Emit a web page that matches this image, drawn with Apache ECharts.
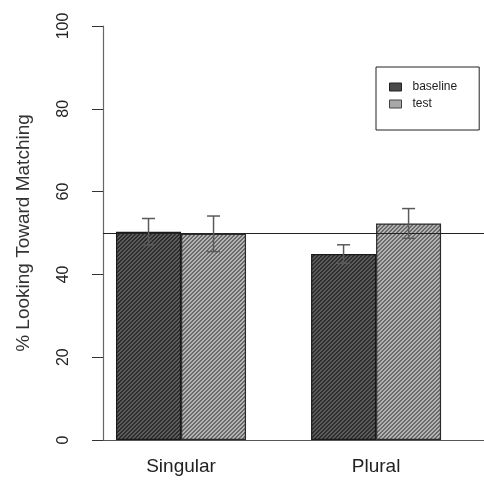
<!DOCTYPE html>
<html>
<head>
<meta charset="utf-8">
<script src="https://cdn.jsdelivr.net/npm/echarts@6/dist/echarts.min.js"></script>
<style>
  html, body { margin: 0; padding: 0; background: #fff; }
  #chart { width: 484px; height: 490px; }
</style>
</head>
<body>
<div id="chart"></div>
<script>
// Looking preference by number condition
const categories = ['Singular', 'Plural'];
const seriesNames = ['baseline', 'test'];
const baseline = [50.3, 44.9];
const test = [49.8, 52.3];
const baselineSE = [3.2, 2.25];
const testSE = [4.3, 3.6];
const chanceLevel = 50;
const yTicks = [0, 20, 40, 60, 80, 100];

// Diagonal hatch tile ("/" direction) used as bar fill
function hatch(dark, light) {
  const c = document.createElement('canvas');
  c.width = 4; c.height = 4;
  const ctx = c.getContext('2d');
  for (let x = 0; x < 4; x++) {
    for (let y = 0; y < 4; y++) {
      ctx.fillStyle = ((x + y) % 4 < 2) ? dark : light;
      ctx.fillRect(x, y, 1, 1);
    }
  }
  return { image: c, repeat: 'repeat' };
}

// Bars of a group sit side by side around the group centre (R barplot layout)
const groupCenter = i => 2 + 3 * i;
const barData = (vals, off) => vals.map((v, i) => [groupCenter(i) + off, v]);
const errData = (vals, se, off) => vals.map((v, i) => [groupCenter(i) + off, v - se[i], v + se[i]]);

function errorBar(params, api) {
  const x = api.value(0);
  const lo = api.coord([x, api.value(1)]);
  const hi = api.coord([x, api.value(2)]);
  const w = 6.5;
  const style = { stroke: '#5a5a5a', lineWidth: 1.5 };
  return {
    type: 'group',
    children: [
      { type: 'line', shape: { x1: hi[0], y1: hi[1], x2: lo[0], y2: lo[1] }, style },
      { type: 'line', shape: { x1: hi[0] - w, y1: hi[1], x2: hi[0] + w, y2: hi[1] }, style },
      { type: 'line', shape: { x1: lo[0] - w, y1: lo[1], x2: lo[0] + w, y2: lo[1] }, style }
    ]
  };
}

const chart = echarts.init(document.getElementById('chart'), null, { renderer: 'canvas' });
const font = '"Liberation Sans", Arial, sans-serif';

chart.setOption({
  animation: false,
  textStyle: { fontFamily: font },
  grid: { left: 103, right: 0, top: 26, bottom: 50 },
  legend: {
    orient: 'vertical',
    left: 376, top: 67,
    padding: [14, 22, 20, 13],
    itemGap: 5,
    itemWidth: 12, itemHeight: 8,
    icon: 'rect',
    borderColor: '#222', borderWidth: 1,
    textStyle: { fontSize: 12, color: '#222', fontFamily: font, padding: [0, 0, 0, 6] },
    data: [
      { name: seriesNames[0], itemStyle: { color: '#4a4a4a', borderColor: '#222', borderWidth: 1 } },
      { name: seriesNames[1], itemStyle: { color: '#a8a8a8', borderColor: '#444', borderWidth: 1 } }
    ]
  },
  xAxis: {
    type: 'value',
    min: 0.8, max: 6.66,
    splitLine: { show: false },
    axisLine: { show: true, lineStyle: { color: '#555', width: 1 } },
    axisTick: { show: false },
    axisLabel: {
      customValues: categories.map((c, i) => groupCenter(i)),
      formatter: v => categories[(v - 2) / 3],
      fontSize: 19, color: '#222', margin: 17
    }
  },
  yAxis: {
    type: 'value',
    min: 0, max: 100, interval: 20,
    name: '% Looking Toward Matching',
    nameLocation: 'middle',
    nameGap: 70,
    nameTextStyle: { fontSize: 19, color: '#333' },
    splitLine: { show: false },
    axisLine: { show: true, lineStyle: { color: '#666', width: 1.2 } },
    axisTick: { show: true, length: 11, lineStyle: { color: '#333' } },
    axisLabel: {
      customValues: yTicks,
      rotate: 90, fontSize: 16, color: '#222', margin: 31
    }
  },
  series: [
    {
      name: seriesNames[0], type: 'bar',
      barWidth: 65, barGap: '-100%',
      data: barData(baseline, -0.5),
      itemStyle: { color: hatch('#2e2e2e', '#5c5c5c'), borderColor: '#1a1a1a', borderWidth: 1.2 },
      markLine: {
        silent: true, symbol: 'none', label: { show: false },
        lineStyle: { color: '#222', width: 1.2, type: 'solid' },
        data: [{ yAxis: chanceLevel }]
      },
      z: 2
    },
    {
      name: seriesNames[1], type: 'bar',
      barWidth: 65, barGap: '-100%',
      data: barData(test, 0.5),
      itemStyle: { color: hatch('#6a6a6a', '#b4b4b4'), borderColor: '#2a2a2a', borderWidth: 1.2 },
      z: 2
    },
    {
      type: 'custom', renderItem: errorBar,
      data: errData(baseline, baselineSE, -0.5), z: 5
    },
    {
      type: 'custom', renderItem: errorBar,
      data: errData(test, testSE, 0.5), z: 5
    }
  ]
});
</script>
</body>
</html>
